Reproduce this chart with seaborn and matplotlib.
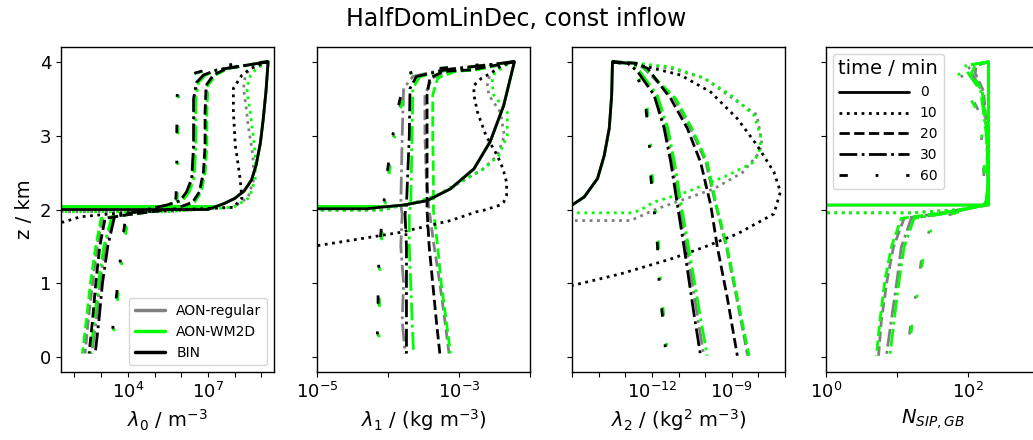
import numpy as np
import matplotlib
matplotlib.use("Agg")
import matplotlib.pyplot as plt
import seaborn as sns
from matplotlib.lines import Line2D
from matplotlib.ticker import FixedLocator, NullLocator, FuncFormatter

NO = -np.inf  # log10(0): no particles at this height

# ---------------- labels / categories ----------------
TITLE = "HalfDomLinDec, const inflow"
MODELS = ["AON-regular", "AON-WM2D", "BIN"]
MODEL_KEYS = ["REG", "WM2D", "BIN"]
MODEL_COLORS = ["grey", "lime", "black"]
TIMES = [0, 10, 20, 30, 60]
XLABELS = [r"$\lambda_0$ / m$^{-3}$", r"$\lambda_1$ / (kg m$^{-3}$)",
           r"$\lambda_2$ / (kg$^2$ m$^{-3}$)", r"$N_{SIP,GB}$"]
YLABEL = "z / km"
XLIM_LOG = [(1.5, 9.47), (-5.0, -2.0), (-15.0, -7.0), (0.0, 3.0)]
XTICK_LABELLED = [(4, 7), (-5, -3), (-12, -9), (0, 2)]

# ---------------- panel 1: lambda0 (log10 m^-3) ----------------
P1_T0_Z = [4.0, 3.6, 3.2, 2.9, 2.6, 2.4, 2.25, 2.15, 2.08, 2.04, 2.0, 1.97, 0.0]
P1_T0_REG = [9.25, 9.17, 9.06, 8.96, 8.8, 8.63, 8.35, 8.0, 7.6, 7.3, NO, NO, NO]
P1_T0_WM2D = [9.25, 9.17, 9.06, 8.96, 8.8, 8.63, 8.35, 8.0, 7.6, 7.3, NO, NO, NO]
P1_T0_BIN = [9.25, 9.17, 9.06, 8.96, 8.8, 8.63, 8.35, 8.0, 7.6, 7.3, 7.0, NO, NO]

P1_T10_Z = [4.0, 3.91, 3.82, 3.64, 3.32, 3.14, 2.87, 2.73, 2.42, 2.19, 2.15, 2.03, 2.0, 1.97, 1.94, 1.9, 1.83, 1.78, 0.0]
P1_T10_REG = [9.25, 8.6, 8.4, 8.33, 8.45, 8.5, 8.62, 8.68, 8.72, 8.52, 8.45, 7.95, 6.6, 5.5, NO, NO, NO, NO, NO]
P1_T10_WM2D = [9.25, 8.83, 8.6, 8.45, 8.58, 8.64, 8.74, 8.77, 8.77, 8.58, 8.5, 7.95, 6.6, 5.5, NO, NO, NO, NO, NO]
P1_T10_BIN = [9.25, 8.6, 8.27, 7.95, 7.95, 7.98, 8.02, 8.08, 8.2, 8.26, 8.27, 7.95, 6.0, 4.6, 3.33, 2.21, 1.59, NO, NO]

P1_T20_Z = [4.0, 3.91, 3.82, 3.68, 3.32, 2.87, 2.51, 2.24, 2.10, 2.01, 1.93, 1.88, 1.5, 1.0, 0.5, 0.05]
P1_T20_REG = [9.25, 7.72, 7.25, 6.96, 6.92, 6.92, 6.86, 6.7, 6.46, 5.8, 4.0, 3.05, 2.85, 2.68, 2.52, 2.4]
P1_T20_WM2D = [9.25, 7.75, 7.3, 7.0, 6.96, 6.96, 6.9, 6.75, 6.5, 5.8, 4.0, 3.0, 2.8, 2.6, 2.45, 2.3]
P1_T20_BIN = [9.25, 7.7, 7.2, 6.93, 6.89, 6.89, 6.83, 6.68, 6.43, 5.8, 4.0, 3.15, 2.95, 2.8, 2.68, 2.55]

P1_T30_Z = [4.0, 3.89, 3.82, 3.72, 3.5, 2.87, 2.42, 2.24, 2.12, 2.06, 1.97, 1.9, 1.5, 1.0, 0.5, 0.05]
P1_T30_REG = [9.25, 7.36, 6.86, 6.6, 6.5, 6.5, 6.43, 6.25, 6.0, 5.48, 4.3, 3.45, 3.15, 2.95, 2.82, 2.65]
P1_T30_WM2D = [9.25, 7.4, 6.9, 6.65, 6.55, 6.55, 6.48, 6.3, 6.05, 5.5, 4.3, 3.4, 3.1, 2.9, 2.75, 2.6]
P1_T30_BIN = [9.25, 7.33, 6.83, 6.57, 6.46, 6.46, 6.39, 6.2, 5.96, 5.46, 4.3, 3.5, 3.25, 3.05, 2.92, 2.78]

P1_T60_Z = [4.0, 3.95, 3.84, 3.6, 3.0, 2.5, 2.15, 2.05, 1.95, 1.85, 1.5, 1.04, 0.57, 0.05]
P1_T60_REG = [9.25, 7.55, 6.48, 5.88, 5.86, 5.86, 5.83, 5.5, 4.5, 3.95, 3.8, 3.67, 3.52, 3.35]
P1_T60_WM2D = [9.25, 7.6, 6.5, 5.9, 5.88, 5.88, 5.85, 5.5, 4.5, 4.0, 3.85, 3.7, 3.55, 3.38]
P1_T60_BIN = [9.25, 7.5, 6.45, 5.85, 5.83, 5.83, 5.8, 5.5, 4.5, 3.9, 3.77, 3.64, 3.49, 3.33]

# ---------------- panel 2: lambda1 (log10 kg m^-3) ----------------
P2_T0_Z = [4.0, 3.41, 2.92, 2.55, 2.28, 2.12, 2.06, 2.04, 2.01, 1.98, 0.0]
P2_T0_REG = [-2.22, -2.37, -2.56, -2.79, -3.12, -3.45, -3.78, -4.0, NO, NO, NO]
P2_T0_WM2D = [-2.22, -2.37, -2.56, -2.79, -3.12, -3.45, -3.78, -4.0, NO, NO, NO]
P2_T0_BIN = [-2.22, -2.37, -2.56, -2.79, -3.12, -3.45, -3.78, -4.0, -4.3, NO, NO]

P2_T10_Z = [4.0, 3.95, 3.84, 3.78, 3.68, 3.55, 3.32, 3.0, 2.73, 2.55, 2.37, 2.19, 2.10, 2.06, 1.99, 1.97, 1.85, 1.69, 1.58, 1.51, 1.45, 1.4, 0.0]
P2_T10_REG = [-2.22, -2.38, -2.55, -2.58, -2.6, -2.58, -2.42, -2.36, -2.46, -2.66, -2.98, -3.31, -3.6, -3.78, -4.1, NO, NO, NO, NO, NO, NO, NO, NO]
P2_T10_WM2D = [-2.22, -2.35, -2.5, -2.53, -2.53, -2.51, -2.32, -2.32, -2.44, -2.65, -2.98, -3.31, -3.6, -3.78, -4.1, NO, NO, NO, NO, NO, NO, NO, NO]
P2_T10_BIN = [-2.22, -2.4, -2.56, -2.68, -2.79, -2.79, -2.74, -2.62, -2.46, -2.38, -2.33, -2.33, -2.37, -2.42, -2.65, -2.75, -3.12, -3.83, -4.54, -5.0, -5.6, NO, NO]

P2_T20_Z = [4.0, 3.89, 3.87, 3.78, 3.55, 3.0, 2.42, 1.99, 1.5, 1.0, 0.5, 0.05]
P2_T20_REG = [-2.22, -2.8, -3.15, -3.38, -3.48, -3.48, -3.46, -3.42, -3.35, -3.27, -3.2, -3.14]
P2_T20_WM2D = [-2.22, -2.75, -3.05, -3.3, -3.37, -3.37, -3.36, -3.36, -3.3, -3.25, -3.18, -3.12]
P2_T20_BIN = [-2.22, -2.84, -3.22, -3.41, -3.45, -3.45, -3.45, -3.45, -3.42, -3.37, -3.32, -3.27]

P2_T30_Z = [4.0, 3.89, 3.8, 3.64, 3.0, 2.06, 1.94, 1.5, 1.0, 0.5, 0.05]
P2_T30_REG = [-2.22, -3.25, -3.65, -3.78, -3.8, -3.82, -3.8, -3.82, -3.78, -3.8, -3.76]
P2_T30_WM2D = [-2.22, -3.15, -3.55, -3.65, -3.66, -3.68, -3.7, -3.7, -3.68, -3.66, -3.64]
P2_T30_BIN = [-2.22, -3.2, -3.6, -3.69, -3.7, -3.74, -3.76, -3.74, -3.74, -3.74, -3.74]

P2_T60_Z = [4.0, 3.9, 3.84, 3.37, 2.92, 2.44, 1.99, 1.49, 1.04, 0.57, 0.07]
P2_T60_REG = [-2.22, -3.38, -3.72, -3.84, -3.94, -4.0, -4.06, -4.11, -4.13, -4.13, -4.15]
P2_T60_WM2D = [-2.22, -3.35, -3.7, -3.82, -3.92, -3.99, -4.05, -4.1, -4.12, -4.12, -4.13]
P2_T60_BIN = [-2.22, -3.4, -3.75, -3.86, -3.95, -4.02, -4.07, -4.12, -4.14, -4.14, -4.16]

# ---------------- panel 3: lambda2 (log10 kg^2 m^-3) ----------------
P3_T0_Z = [4.0, 3.55, 3.10, 2.73, 2.42, 2.17, 2.06, 2.04, 2.0, 1.98, 0.0]
P3_T0_REG = [-13.48, -13.51, -13.6, -13.79, -14.04, -14.54, -15.0, -15.2, NO, NO, NO]
P3_T0_WM2D = [-13.48, -13.51, -13.6, -13.79, -14.04, -14.54, -15.0, -15.2, NO, NO, NO]
P3_T0_BIN = [-13.48, -13.51, -13.6, -13.79, -14.04, -14.54, -15.0, -15.2, -15.5, NO, NO]

P3_T10_Z_REG = [4.0, 3.98, 3.91, 3.78, 3.46, 3.28, 2.87, 2.73, 2.5, 2.28, 2.01, 1.9, 1.85, 1.84, 0.0]
P3_T10_REG = [-13.48, -12.6, -11.29, -10.04, -8.79, -8.05, -7.86, -8.05, -8.6, -9.67, -11.8, -12.5, -12.8, NO, NO]
P3_T10_Z_WM2D = [4.0, 3.98, 3.93, 3.78, 3.55, 3.28, 3.01, 2.83, 2.64, 2.46, 2.24, 2.10, 2.0, 1.955, 1.95, 0.0]
P3_T10_WM2D = [-13.48, -12.6, -11.29, -10.04, -9.04, -8.17, -7.92, -7.92, -8.17, -9.17, -10.67, -11.92, -12.4, -12.7, NO, NO]
P3_T10_Z_BIN = [4.0, 3.98, 3.93, 3.82, 3.59, 3.23, 2.87, 2.51, 2.24, 1.94, 1.67, 1.49, 1.33, 1.13, 0.97, 0.9, 0.0]
P3_T10_BIN = [-13.48, -13.0, -12.16, -10.92, -9.79, -8.79, -8.05, -7.42, -7.17, -7.42, -8.79, -10.04, -11.29, -13.16, -15.0, -16.0, NO]

P3_T20_Z = [4.0, 3.98, 3.91, 3.5, 3.10, 2.64, 2.06, 1.49, 0.81, 0.02]
P3_T20_REG = [-13.48, -12.6, -12.3, -11.15, -10.55, -9.97, -9.6, -9.2, -8.82, -8.4]
P3_T20_WM2D = [-13.48, -12.6, -12.25, -11.1, -10.5, -9.92, -9.58, -9.17, -8.79, -8.35]
P3_T20_BIN = [-13.48, -12.6, -12.16, -11.29, -10.67, -10.17, -9.79, -9.54, -9.17, -8.79]

P3_T30_Z = [4.0, 3.98, 3.87, 3.55, 3.10, 2.64, 2.06, 1.49, 0.59, 0.02]
P3_T30_REG = [-13.48, -12.9, -12.5, -11.87, -11.48, -11.22, -10.97, -10.7, -10.3, -10.05]
P3_T30_WM2D = [-13.48, -12.9, -12.45, -11.8, -11.4, -11.15, -10.9, -10.62, -10.2, -9.92]
P3_T30_BIN = [-13.48, -12.9, -12.54, -11.92, -11.54, -11.29, -11.04, -10.79, -10.42, -10.17]

P3_T60_Z = [4.0, 3.95, 3.6, 3.39, 2.92, 2.44, 2.01, 1.51, 1.04, 0.54, 0.07]
P3_T60_REG = [-13.48, -12.68, -12.32, -12.2, -12.07, -12.0, -11.9, -11.77, -11.7, -11.57, -11.45]
P3_T60_WM2D = [-13.48, -12.65, -12.3, -12.18, -12.05, -11.98, -11.86, -11.74, -11.68, -11.55, -11.42]
P3_T60_BIN = [-13.48, -12.7, -12.35, -12.23, -12.1, -12.04, -11.92, -11.79, -11.73, -11.6, -11.48]

# ---------------- panel 4: N_SIP,GB (log10), AON only ----------------
P4_T0_Z = [4.0, 3.0, 2.06, 2.04, 0.0]
P4_T0_REG = [2.29, 2.29, 2.29, NO, NO]
P4_T0_WM2D = [2.29, 2.29, 2.29, NO, NO]

P4_T10_Z = [4.0, 3.0, 2.06, 2.0, 1.955, 1.95, 0.0]
P4_T10_REG = [2.29, 2.29, 2.28, 1.9, 1.2, NO, NO]
P4_T10_WM2D = [2.29, 2.29, 2.28, 1.9, 1.2, NO, NO]

P4_T20_Z = [4.0, 3.95, 3.85, 3.6, 3.0, 2.3, 2.06, 1.95, 1.88, 1.49, 1.04, 0.5, 0.02]
P4_T20_REG = [2.29, 2.12, 2.1, 2.22, 2.27, 2.28, 2.25, 1.6, 1.1, 0.95, 0.86, 0.78, 0.74]
P4_T20_WM2D = [2.29, 2.1, 2.05, 2.2, 2.27, 2.28, 2.25, 1.6, 1.06, 0.92, 0.83, 0.76, 0.71]

P4_T30_Z = [4.0, 3.95, 3.85, 3.6, 3.0, 2.3, 2.06, 1.95, 1.88, 1.49, 1.04, 0.5, 0.02]
P4_T30_REG = [2.29, 2.0, 2.05, 2.2, 2.27, 2.28, 2.25, 1.7, 1.2, 1.06, 1.0, 0.92, 0.85]
P4_T30_WM2D = [2.29, 1.97, 2.0, 2.18, 2.26, 2.28, 2.25, 1.7, 1.24, 1.1, 1.03, 0.96, 0.9]

P4_T60_Z = [4.0, 3.9, 3.7, 3.3, 2.8, 2.1, 2.04, 1.95, 1.85, 1.42, 0.97, 0.52, 0.07]
P4_T60_REG = [2.29, 1.88, 1.95, 2.17, 2.2, 2.25, 2.2, 1.8, 1.5, 1.36, 1.29, 1.2, 1.15]
P4_T60_WM2D = [2.29, 1.85, 1.92, 2.15, 2.22, 2.25, 2.2, 1.8, 1.52, 1.38, 1.31, 1.22, 1.17]

# ---------------- style ----------------
sns.set_style("ticks")
plt.rcParams.update({
    "font.family": ["DejaVu Sans"],
    "axes.edgecolor": "black", "text.color": "black",
    "axes.labelcolor": "black", "xtick.color": "black", "ytick.color": "black",
    "xtick.labelsize": 13, "ytick.labelsize": 13, "axes.labelsize": 14,
    "axes.linewidth": 1.0,
})
LINESTYLES = {0: "-", 10: ":", 20: "--", 30: "-.", 60: (0, (3, 10, 1, 10))}
LW = 2.0

fig = plt.figure(figsize=(10.33, 4.4), dpi=100)
W, H = 1033.0, 440.0
lefts = [61, 317, 572, 826]
axes = [fig.add_axes([l / W, 68 / H, 213 / W, 325 / H]) for l in lefts]

g = globals()
for p, ax in enumerate(axes):
    pre = f"P{p + 1}"
    for mk, color in zip(MODEL_KEYS, MODEL_COLORS):
        for t in TIMES:
            key = f"{pre}_T{t}_{mk}"
            if key not in g:
                continue
            z = g.get(f"{pre}_T{t}_Z_{mk}", g.get(f"{pre}_T{t}_Z"))
            vals = np.power(10.0, np.array(g[key], dtype=float))
            sns.lineplot(x=vals, y=np.array(z, dtype=float), ax=ax, color=color,
                         linestyle=LINESTYLES[t], lw=LW, sort=False,
                         estimator=None, legend=False)
    ax.set_xscale("log")
    lo, hi = XLIM_LOG[p]
    ax.set_xlim(10 ** lo, 10 ** hi)
    ax.set_ylim(-0.2, 4.2)
    decs = np.arange(int(np.ceil(lo - 1e-9)), int(np.floor(hi + 1e-9)) + 1)
    ax.xaxis.set_major_locator(FixedLocator(10.0 ** decs))
    ax.xaxis.set_minor_locator(NullLocator())
    labelled = XTICK_LABELLED[p]
    ax.xaxis.set_major_formatter(FuncFormatter(
        lambda v, pos, labelled=labelled: (f"$10^{{{int(round(np.log10(v)))}}}$"
                                           if int(round(np.log10(v))) in labelled else "")))
    ax.set_yticks([0, 1, 2, 3, 4])
    ax.set_xlabel(XLABELS[p])
    if p == 0:
        ax.set_ylabel(YLABEL)
    else:
        ax.tick_params(axis="y", labelleft=False)
    for s in ax.spines.values():
        s.set_visible(True)

# legends
mh = [Line2D([], [], color=c, lw=2.5) for c in MODEL_COLORS]
axes[0].legend(mh, MODELS, loc="lower right", fontsize=10, handlelength=2.2)
th = [Line2D([], [], color="black", lw=LW, linestyle=LINESTYLES[t]) for t in TIMES]
leg = axes[3].legend(th, [str(t) for t in TIMES], loc="upper left", fontsize=10,
                     handlelength=5, title="time / min", title_fontsize=14)

fig.suptitle(TITLE, fontsize=17, y=0.985)
fig.savefig("out.png", dpi=100)
